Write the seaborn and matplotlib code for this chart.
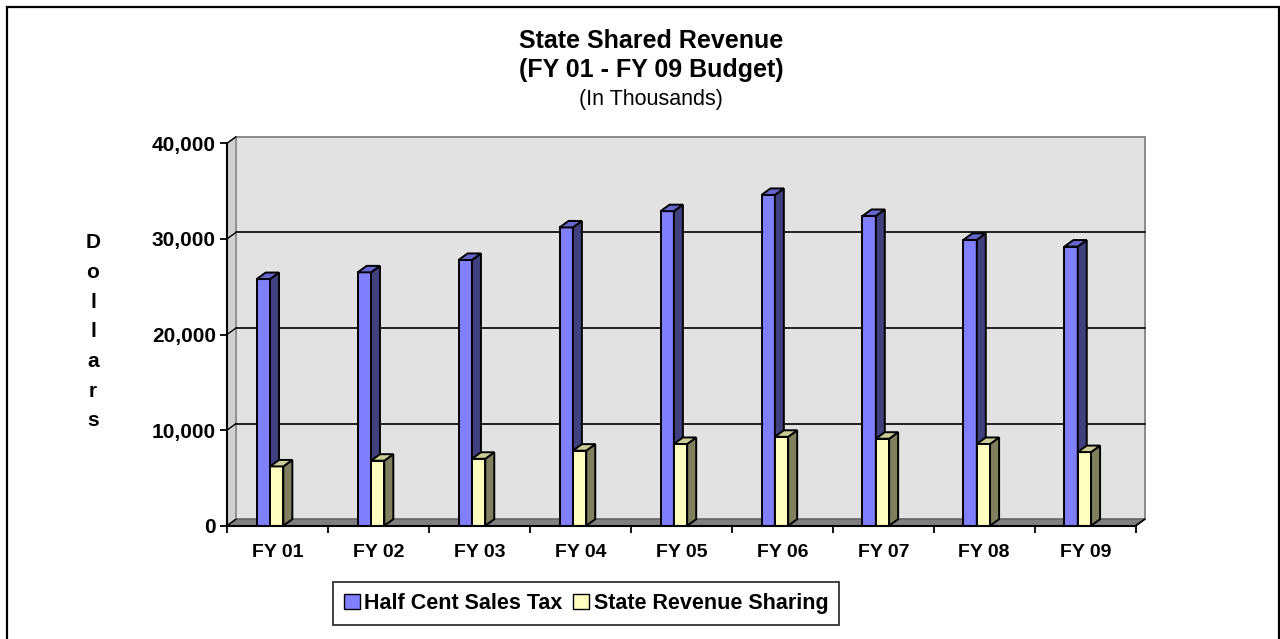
import matplotlib
matplotlib.use("Agg")
import matplotlib.pyplot as plt
import seaborn as sns
import numpy as np
import pandas as pd
from matplotlib.patches import Polygon, Rectangle
from matplotlib.ticker import FuncFormatter

# data (in thousands of dollars)
years = ["FY 01", "FY 02", "FY 03", "FY 04", "FY 05", "FY 06", "FY 07", "FY 08", "FY 09"]
half_cent_sales_tax = [25800, 26500, 27800, 31200, 32900, 34600, 32400, 29900, 29200]
state_revenue_sharing = [6200, 6800, 7000, 7850, 8550, 9300, 9100, 8550, 7700]
series_names = ["Half Cent Sales Tax", "State Revenue Sharing"]

df = pd.DataFrame({
    "year": years * 2,
    "value": half_cent_sales_tax + state_revenue_sharing,
    "series": [series_names[0]] * len(years) + [series_names[1]] * len(years),
})

front_colors = ["#8080FF", "#FFFFC0"]
side_colors = ["#40407F", "#80805F"]
top_colors = ["#6666CC", "#CCCC99"]

sns.set_style("white")
plt.rcParams["font.family"] = ["Liberation Sans", "DejaVu Sans"]
plt.rcParams["text.color"] = "black"
plt.rcParams["xtick.color"] = "black"
plt.rcParams["ytick.color"] = "black"
plt.rcParams["axes.labelcolor"] = "black"

fig = plt.figure(figsize=(12.8, 6.39), dpi=100)
ax = fig.add_axes([227 / 1280, 1 - 525.7 / 639, 908.7 / 1280, 382.4 / 639])

YMAX = 40000
# fake 3D depth (about 9 px right, 6.5 px up)
DX = 9 / 100.97
DY = 6.5 / (382.4 / YMAX)
SHIFT = 0.074

sns.barplot(data=df, x="year", y="value", hue="series", hue_order=series_names,
            palette=front_colors, width=0.264, saturation=1, errorbar=None,
            edgecolor="black", linewidth=1.4, legend=False, ax=ax)

ax.set_xlim(-0.5, len(years) - 0.5)
ax.set_ylim(0, YMAX)
x_lo, x_hi = ax.get_xlim()

# back wall, left wall and floor
ax.add_patch(Rectangle((x_lo + DX, DY), x_hi - x_lo, YMAX, facecolor="#E2E2E2",
                       edgecolor="#8C8C8C", linewidth=1.4, zorder=0.5, clip_on=False))
ax.add_patch(Polygon([(x_lo, 0), (x_lo, YMAX), (x_lo + DX, YMAX + DY), (x_lo + DX, DY)],
                     closed=True, facecolor="#D0D0D0", edgecolor="#8C8C8C",
                     linewidth=1.2, zorder=0.6, clip_on=False))
ax.add_patch(Polygon([(x_lo, 0), (x_hi, 0), (x_hi + DX, DY), (x_lo + DX, DY)],
                     closed=True, facecolor="#808080", edgecolor="#666666",
                     linewidth=1.0, zorder=0.7, clip_on=False))
ax.plot([x_hi, x_hi + DX], [0, DY], color="black", lw=1.3, zorder=0.8, clip_on=False)

for v in range(10000, YMAX, 10000):
    ax.plot([x_lo + DX, x_hi + DX], [v + DY, v + DY], color="black", lw=1.2,
            zorder=0.65, clip_on=False)
for v in range(0, YMAX + 1, 10000):
    ax.plot([x_lo, x_lo + DX], [v, v + DY], color="black", lw=1.0,
            zorder=0.9, clip_on=False)

# 3D faces on each bar
for k, cont in enumerate(ax.containers):
    for rect in cont:
        rect.set_x(rect.get_x() - SHIFT)
        rect.set_zorder(3 + k)
        x0 = rect.get_x()
        x1 = x0 + rect.get_width()
        h = rect.get_height()
        ax.add_patch(Polygon([(x1, 0), (x1 + DX, DY), (x1 + DX, h + DY), (x1, h)],
                             closed=True, facecolor=side_colors[k], edgecolor="black",
                             linewidth=1.4, zorder=3 + k))
        ax.add_patch(Polygon([(x0, h), (x0 + DX, h + DY), (x1 + DX, h + DY), (x1, h)],
                             closed=True, facecolor=top_colors[k], edgecolor="black",
                             linewidth=1.4, zorder=3 + k))

# axes styling
for s in ["top", "right"]:
    ax.spines[s].set_visible(False)
for s in ["left", "bottom"]:
    ax.spines[s].set_color("black")
    ax.spines[s].set_linewidth(1.5)
    ax.spines[s].set_zorder(6)

ax.set_yticks(range(0, YMAX + 1, 10000))
ax.yaxis.set_major_formatter(FuncFormatter(lambda v, p: f"{int(v):,}"))
ax.tick_params(axis="y", direction="out", length=5, width=1.3, pad=3,
               labelsize=15, left=True)
for lab in ax.get_yticklabels():
    lab.set_fontweight("bold")

ax.set_xticks(np.arange(x_lo, x_hi + 0.01, 1.0))
ax.set_xticklabels([])
ax.set_xticks(range(len(years)), minor=True)
ax.set_xticklabels(years, minor=True, fontsize=14, fontweight="bold")
ax.tick_params(axis="x", which="major", direction="out", length=5, width=1.3, bottom=True)
ax.tick_params(axis="x", which="minor", length=0, pad=13)
ax.set_xlabel("")
ax.set_ylabel("")

# titles
fig.text(651 / 1280, 1 - 40.5 / 639, "State Shared Revenue", ha="center", va="center",
         fontsize=18, fontweight="bold")
fig.text(651 / 1280, 1 - 70.5 / 639, "(FY 01 - FY 09 Budget)", ha="center", va="center",
         fontsize=18, fontweight="bold")
fig.text(651 / 1280, 1 - 100 / 639, "(In Thousands)", ha="center", va="center",
         fontsize=15.5)

# stacked y label
for i, ch in enumerate("Dollars"):
    fig.text(93 / 1280, 1 - (242.7 + i * 29.7) / 639, ch, ha="center", va="center",
             fontsize=15, fontweight="bold")

# legend
handles = [Rectangle((0, 0), 1, 1, facecolor=c, edgecolor="black", linewidth=1.0)
           for c in front_colors]
leg = fig.legend(handles, series_names, loc="center", ncol=2,
                 bbox_to_anchor=(586 / 1280, 1 - 603.5 / 639), frameon=True,
                 fancybox=False, edgecolor="black", handlelength=0.75,
                 handleheight=0.75, handletextpad=0.2, columnspacing=0.5,
                 borderpad=0.5, borderaxespad=0,
                 prop={"size": 15.5, "weight": "bold"})
leg.get_frame().set_linewidth(1.3)

# outer chart border (bottom edge lies off the image)
fig.add_artist(Rectangle((7 / 1280, -0.05), 1271.5 / 1280, 1.05 - 7 / 639,
                         transform=fig.transFigure, fill=False,
                         edgecolor="black", linewidth=1.6))

fig.savefig("out.png", dpi=100)
